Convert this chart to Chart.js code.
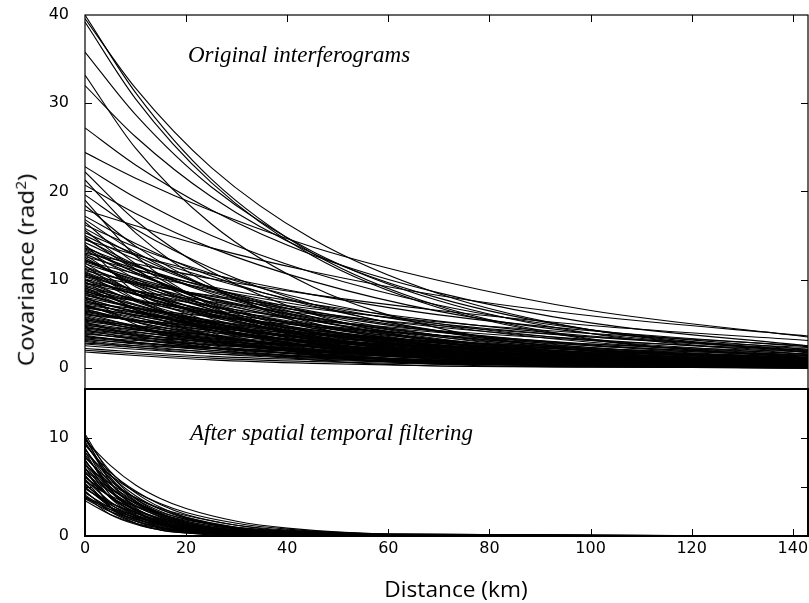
<!DOCTYPE html>
<html>
<head>
<meta charset="utf-8">
<script src="https://cdn.jsdelivr.net/npm/chart.js@4"></script>
<style>
  body { margin: 0; background: #fff; }
  #wrap { position: relative; width: 809px; height: 603px; overflow: hidden; }
  .panel { position: absolute; left: 0; width: 809px; }
  .note { position: absolute; font-family: "Liberation Serif", serif; font-style: italic; font-size: 23px; color: #000; white-space: nowrap; line-height: 1; }
  .axt { position: absolute; font-family: "Open Sans", sans-serif; font-size: 22px; color: #000; white-space: nowrap; line-height: 1; }
</style>
</head>
<body>
<div id="wrap">
  <div class="panel" style="top:0;height:400px"><canvas id="topChart" width="809" height="400"></canvas></div>
  <div class="panel" style="top:380px;height:223px"><canvas id="bottomChart" width="809" height="223"></canvas></div>
  <div class="note" style="left:188px;top:43px">Original interferograms</div>
  <div class="note" style="left:190px;top:421px">After spatial temporal filtering</div>
  <div class="axt" style="left:25px;top:270px;transform:translate(-50%,-50%) rotate(-90deg) scaleX(1.1)">Covariance (rad<sup style="font-size:14px">2</sup>)</div>
  <div class="axt" style="left:456px;top:588px;transform:translate(-50%,-50%) scaleX(1.03)">Distance (km)</div>
</div>
<script>
var distanceTop = [0, 10, 25, 45, 70, 100, 143];
var distanceBottom = [0, 5, 10, 15, 20, 30, 40, 60, 143];

// covariance (rad^2), original interferograms
var originalCurves = [
  [40.0, 31.2, 21.4, 13.0, 7.0, 3.3, 1.1],
  [39.6, 31.7, 22.7, 14.6, 8.4, 4.3, 1.7],
  [39.2, 30.5, 21.0, 12.7, 6.8, 3.2, 1.1],
  [35.8, 28.7, 20.5, 13.2, 7.6, 3.9, 1.5],
  [33.2, 24.9, 16.3, 9.2, 4.5, 1.9, 0.6],
  [32.0, 26.2, 19.4, 13.0, 7.9, 4.3, 1.8],
  [27.2, 23.0, 17.9, 12.8, 8.5, 5.1, 2.5],
  [24.4, 21.5, 17.8, 13.7, 9.9, 6.5, 3.5],
  [22.8, 19.3, 15.0, 10.8, 7.1, 4.3, 2.1],
  [22.2, 16.7, 10.9, 6.1, 3.0, 1.3, 0.4],
  [21.3, 15.3, 9.3, 4.7, 2.1, 0.8, 0.2],
  [20.7, 17.5, 13.6, 9.8, 6.4, 3.9, 1.9],
  [19.6, 15.7, 11.3, 7.2, 4.1, 2.1, 0.8],
  [19.0, 12.7, 7.0, 3.1, 1.2, 0.3, 0.1],
  [18.4, 13.8, 9.0, 5.1, 2.5, 1.0, 0.3],
  [17.9, 16.1, 13.6, 10.9, 8.2, 5.9, 3.6],
  [17.2, 14.1, 10.4, 7.0, 4.2, 2.3, 1.0],
  [16.8, 13.1, 9.0, 5.5, 2.9, 1.4, 0.5],
  [16.5, 11.8, 7.2, 3.7, 1.6, 0.6, 0.1],
  [16.2, 13.7, 10.7, 7.6, 5.0, 3.1, 1.5],
  [15.8, 12.7, 9.1, 5.8, 3.3, 1.7, 0.7],
  [15.6, 11.2, 6.8, 3.5, 1.5, 0.6, 0.1],
  [15.3, 12.9, 10.1, 7.2, 4.8, 2.9, 1.4],
  [15.0, 12.3, 9.1, 6.1, 3.7, 2.0, 0.9],
  [14.8, 11.1, 7.3, 4.1, 2.0, 0.8, 0.3],
  [14.6, 11.7, 8.4, 5.4, 3.1, 1.6, 0.6],
  [14.5, 12.8, 10.6, 8.3, 6.0, 4.2, 2.4],
  [14.2, 11.6, 8.6, 5.8, 3.5, 1.9, 0.8],
  [14.0, 8.5, 4.0, 1.5, 0.4, 0.1, 0.0],
  [13.8, 10.8, 7.4, 4.5, 2.4, 1.1, 0.4],
  [13.6, 11.5, 9.0, 6.4, 4.2, 2.6, 1.3],
  [13.5, 10.8, 7.7, 5.0, 2.8, 1.5, 0.6],
  [13.4, 10.1, 6.6, 3.7, 1.8, 0.8, 0.2],
  [13.2, 11.2, 8.7, 6.2, 4.1, 2.5, 1.2],
  [13.0, 11.8, 10.1, 8.3, 6.5, 4.8, 3.1],
  [12.9, 10.6, 7.8, 5.3, 3.2, 1.7, 0.7],
  [12.8, 9.2, 5.6, 2.9, 1.2, 0.5, 0.1],
  [12.6, 11.1, 9.2, 7.2, 5.3, 3.6, 2.1],
  [12.5, 9.4, 6.1, 3.5, 1.7, 0.7, 0.2],
  [12.3, 9.6, 6.6, 4.0, 2.1, 1.0, 0.3],
  [12.2, 9.8, 7.0, 4.5, 2.6, 1.3, 0.5],
  [12.1, 10.7, 8.9, 6.9, 5.0, 3.5, 2.0],
  [12.0, 10.2, 7.9, 5.7, 3.7, 2.3, 1.1],
  [11.9, 8.5, 5.2, 2.7, 1.2, 0.4, 0.1],
  [11.8, 10.0, 7.8, 5.6, 3.7, 2.2, 1.1],
  [11.6, 7.8, 4.3, 1.9, 0.7, 0.2, 0.0],
  [11.5, 9.4, 7.0, 4.7, 2.8, 1.6, 0.7],
  [11.3, 9.6, 7.4, 5.3, 3.5, 2.1, 1.0],
  [11.2, 8.7, 6.0, 3.6, 1.9, 0.9, 0.3],
  [11.0, 9.7, 8.1, 6.3, 4.6, 3.2, 1.8],
  [10.9, 8.7, 6.3, 4.0, 2.3, 1.2, 0.5],
  [10.8, 8.4, 5.8, 3.5, 1.9, 0.9, 0.3],
  [10.7, 7.7, 4.7, 2.4, 1.0, 0.4, 0.1],
  [10.6, 8.7, 6.4, 4.3, 2.6, 1.4, 0.6],
  [10.5, 9.5, 8.2, 6.7, 5.2, 3.9, 2.5],
  [10.4, 8.8, 6.9, 4.9, 3.2, 2.0, 1.0],
  [10.3, 8.3, 5.9, 3.8, 2.2, 1.1, 0.4],
  [10.1, 8.3, 6.1, 4.1, 2.5, 1.4, 0.6],
  [10.0, 7.5, 4.9, 2.8, 1.4, 0.6, 0.2],
  [9.9, 8.4, 6.5, 4.7, 3.1, 1.9, 0.9],
  [9.8, 6.6, 3.6, 1.6, 0.6, 0.2, 0.0],
  [9.7, 7.6, 5.2, 3.2, 1.7, 0.8, 0.3],
  [9.6, 8.7, 7.5, 6.1, 4.8, 3.5, 2.3],
  [9.5, 8.4, 7.0, 5.4, 4.0, 2.7, 1.6],
  [9.4, 7.7, 5.7, 3.8, 2.3, 1.3, 0.5],
  [9.3, 7.2, 5.0, 3.0, 1.6, 0.8, 0.3],
  [9.2, 7.8, 6.1, 4.3, 2.9, 1.7, 0.8],
  [9.1, 6.8, 4.5, 2.5, 1.2, 0.5, 0.2],
  [9.0, 7.6, 5.9, 4.2, 2.8, 1.7, 0.8],
  [8.9, 7.1, 5.1, 3.3, 1.9, 1.0, 0.4],
  [8.8, 6.6, 4.3, 2.4, 1.2, 0.5, 0.1],
  [8.7, 7.1, 5.3, 3.5, 2.1, 1.2, 0.5],
  [8.6, 7.6, 6.3, 4.9, 3.6, 2.5, 1.4],
  [8.5, 6.6, 4.5, 2.8, 1.5, 0.7, 0.2],
  [8.4, 7.6, 6.5, 5.4, 4.2, 3.1, 2.0],
  [8.3, 6.8, 5.0, 3.4, 2.1, 1.1, 0.5],
  [8.2, 6.9, 5.4, 3.9, 2.6, 1.5, 0.8],
  [8.1, 4.9, 2.3, 0.9, 0.2, 0.1, 0.0],
  [8.0, 6.8, 5.3, 3.8, 2.5, 1.5, 0.7],
  [7.9, 6.3, 4.5, 2.9, 1.7, 0.9, 0.3],
  [7.8, 6.4, 4.7, 3.2, 1.9, 1.1, 0.4],
  [7.7, 5.8, 3.8, 2.1, 1.0, 0.4, 0.1],
  [7.6, 6.4, 5.0, 3.6, 2.4, 1.4, 0.7],
  [7.5, 6.0, 4.3, 2.8, 1.6, 0.8, 0.3],
  [7.4, 6.7, 5.8, 4.7, 3.7, 2.7, 1.8],
  [7.3, 6.2, 4.8, 3.4, 2.3, 1.4, 0.7],
  [7.2, 5.2, 3.1, 1.6, 0.7, 0.3, 0.1],
  [7.1, 6.3, 5.2, 4.0, 3.0, 2.0, 1.2],
  [7.0, 5.5, 3.7, 2.3, 1.2, 0.6, 0.2],
  [7.0, 5.9, 4.6, 3.3, 2.2, 1.3, 0.6],
  [6.9, 5.7, 4.2, 2.8, 1.7, 0.9, 0.4],
  [6.8, 6.0, 5.0, 3.9, 2.8, 2.0, 1.1],
  [6.7, 5.2, 3.6, 2.2, 1.2, 0.5, 0.2],
  [6.6, 5.4, 4.0, 2.7, 1.6, 0.9, 0.4],
  [6.5, 5.2, 3.7, 2.4, 1.4, 0.7, 0.3],
  [6.4, 5.4, 4.2, 3.0, 2.0, 1.2, 0.6],
  [6.3, 5.3, 4.2, 3.0, 2.0, 1.2, 0.6],
  [6.2, 4.7, 3.0, 1.7, 0.8, 0.4, 0.1],
  [6.1, 5.4, 4.5, 3.5, 2.5, 1.8, 1.0],
  [6.0, 5.4, 4.7, 3.8, 3.0, 2.2, 1.4],
  [5.9, 4.8, 3.6, 2.4, 1.5, 0.8, 0.3],
  [5.8, 4.6, 3.3, 2.1, 1.2, 0.6, 0.2],
  [5.7, 4.4, 3.0, 1.9, 1.0, 0.5, 0.2],
  [5.6, 4.7, 3.7, 2.6, 1.7, 1.1, 0.5],
  [5.5, 4.4, 3.2, 2.0, 1.2, 0.6, 0.2],
  [5.4, 4.8, 4.0, 3.1, 2.3, 1.5, 0.9],
  [5.3, 4.5, 3.5, 2.5, 1.6, 1.0, 0.5],
  [5.2, 3.7, 2.3, 1.2, 0.5, 0.2, 0.0],
  [5.1, 4.3, 3.4, 2.4, 1.6, 1.0, 0.5],
  [5.0, 4.1, 3.0, 2.0, 1.2, 0.7, 0.3],
  [4.9, 3.9, 2.8, 1.8, 1.0, 0.5, 0.2],
  [4.8, 4.3, 3.7, 3.1, 2.4, 1.8, 1.1],
  [4.7, 3.8, 2.9, 1.9, 1.2, 0.6, 0.3],
  [4.6, 3.6, 2.5, 1.5, 0.8, 0.4, 0.1],
  [4.5, 4.0, 3.3, 2.6, 1.9, 1.3, 0.8],
  [4.4, 3.7, 2.9, 2.1, 1.4, 0.8, 0.4],
  [4.3, 3.3, 2.3, 1.4, 0.7, 0.4, 0.1],
  [4.2, 3.7, 3.1, 2.4, 1.8, 1.2, 0.7],
  [4.1, 3.5, 2.7, 1.9, 1.3, 0.8, 0.4],
  [4.0, 3.2, 2.3, 1.5, 0.8, 0.4, 0.2],
  [3.9, 3.3, 2.6, 1.8, 1.2, 0.7, 0.4],
  [3.8, 3.4, 3.0, 2.4, 1.9, 1.4, 0.9],
  [3.7, 2.9, 2.0, 1.2, 0.6, 0.3, 0.1],
  [3.6, 2.9, 2.2, 1.5, 0.9, 0.5, 0.2],
  [3.5, 3.1, 2.6, 2.0, 1.5, 1.0, 0.6],
  [3.4, 2.9, 2.2, 1.6, 1.1, 0.6, 0.3],
  [3.3, 2.7, 2.0, 1.3, 0.8, 0.4, 0.2],
  [3.2, 2.8, 2.3, 1.8, 1.3, 0.9, 0.5],
  [3.1, 2.5, 1.8, 1.1, 0.7, 0.3, 0.1],
  [3.0, 2.3, 1.6, 1.0, 0.5, 0.2, 0.1],
  [2.8, 2.5, 2.2, 1.8, 1.4, 1.0, 0.7],
  [2.7, 2.3, 1.8, 1.3, 0.8, 0.5, 0.2],
  [2.5, 2.1, 1.6, 1.2, 0.8, 0.5, 0.2],
  [2.2, 1.8, 1.3, 0.9, 0.5, 0.3, 0.1],
  [2.0, 1.6, 1.1, 0.7, 0.4, 0.2, 0.1],
  [1.8, 1.4, 0.9, 0.5, 0.2, 0.1, 0.0]
];

// covariance (rad^2), after spatial temporal filtering
var filteredCurves = [
  [10.4, 6.3, 3.8, 2.3, 1.4, 0.5, 0.2, 0.0, 0],
  [10.2, 5.5, 2.9, 1.6, 0.8, 0.2, 0.1, 0.0, 0],
  [10.0, 6.6, 4.4, 2.9, 1.9, 0.8, 0.4, 0.1, 0],
  [9.9, 6.0, 3.6, 2.2, 1.3, 0.5, 0.2, 0.0, 0],
  [9.8, 7.2, 5.2, 3.8, 2.8, 1.5, 0.8, 0.2, 0],
  [9.6, 5.8, 3.5, 2.1, 1.3, 0.5, 0.2, 0.0, 0],
  [9.4, 6.2, 4.1, 2.7, 1.8, 0.8, 0.3, 0.1, 0],
  [9.3, 6.5, 4.6, 3.2, 2.2, 1.1, 0.5, 0.1, 0],
  [9.0, 4.8, 2.6, 1.4, 0.7, 0.2, 0.1, 0.0, 0],
  [8.9, 5.4, 3.3, 2.0, 1.2, 0.4, 0.2, 0.0, 0],
  [8.8, 5.8, 3.8, 2.5, 1.7, 0.7, 0.3, 0.1, 0],
  [8.6, 4.6, 2.5, 1.3, 0.7, 0.2, 0.1, 0.0, 0],
  [8.5, 6.2, 4.5, 3.3, 2.4, 1.3, 0.7, 0.2, 0],
  [8.3, 5.0, 3.1, 1.9, 1.1, 0.4, 0.1, 0.0, 0],
  [8.1, 5.3, 3.5, 2.3, 1.5, 0.7, 0.3, 0.1, 0],
  [8.0, 5.6, 3.9, 2.7, 1.9, 0.9, 0.5, 0.1, 0],
  [7.8, 4.2, 2.2, 1.2, 0.6, 0.2, 0.1, 0.0, 0],
  [7.7, 4.7, 2.8, 1.7, 1.0, 0.4, 0.1, 0.0, 0],
  [7.6, 5.0, 3.3, 2.2, 1.4, 0.6, 0.3, 0.1, 0],
  [7.4, 4.5, 2.7, 1.7, 1.0, 0.4, 0.1, 0.0, 0],
  [7.3, 3.9, 2.1, 1.1, 0.6, 0.2, 0.0, 0.0, 0],
  [7.2, 5.3, 3.9, 2.8, 2.1, 1.1, 0.6, 0.2, 0],
  [7.0, 3.0, 1.3, 0.6, 0.3, 0.0, 0.0, 0.0, 0],
  [6.9, 4.8, 3.4, 2.4, 1.7, 0.8, 0.4, 0.1, 0],
  [6.8, 4.5, 3.0, 2.0, 1.3, 0.6, 0.2, 0.0, 0],
  [6.6, 4.0, 2.4, 1.5, 0.9, 0.3, 0.1, 0.0, 0],
  [6.5, 3.9, 2.4, 1.4, 0.9, 0.3, 0.1, 0.0, 0],
  [6.4, 4.5, 3.1, 2.2, 1.5, 0.7, 0.4, 0.1, 0],
  [6.2, 3.3, 1.8, 0.9, 0.5, 0.1, 0.0, 0.0, 0],
  [6.1, 4.0, 2.7, 1.8, 1.2, 0.5, 0.2, 0.0, 0],
  [6.0, 4.0, 2.6, 1.7, 1.1, 0.5, 0.2, 0.0, 0],
  [5.8, 3.5, 2.1, 1.3, 0.8, 0.3, 0.1, 0.0, 0],
  [5.7, 3.0, 1.6, 0.9, 0.5, 0.1, 0.0, 0.0, 0],
  [5.6, 4.1, 3.0, 2.2, 1.6, 0.9, 0.5, 0.1, 0],
  [5.4, 2.9, 1.5, 0.8, 0.4, 0.1, 0.0, 0.0, 0],
  [5.3, 3.2, 2.0, 1.2, 0.7, 0.3, 0.1, 0.0, 0],
  [5.2, 3.4, 2.3, 1.5, 1.0, 0.4, 0.2, 0.0, 0],
  [5.0, 3.0, 1.8, 1.1, 0.7, 0.3, 0.1, 0.0, 0],
  [4.9, 3.2, 2.1, 1.4, 0.9, 0.4, 0.2, 0.0, 0],
  [4.8, 3.4, 2.4, 1.6, 1.2, 0.6, 0.3, 0.1, 0],
  [4.6, 2.5, 1.3, 0.7, 0.4, 0.1, 0.0, 0.0, 0],
  [4.5, 2.7, 1.7, 1.0, 0.6, 0.2, 0.1, 0.0, 0],
  [4.4, 2.9, 1.9, 1.3, 0.8, 0.4, 0.2, 0.0, 0],
  [4.2, 2.5, 1.5, 0.9, 0.6, 0.2, 0.1, 0.0, 0],
  [4.1, 2.2, 1.2, 0.6, 0.3, 0.1, 0.0, 0.0, 0],
  [4.0, 2.9, 2.1, 1.6, 1.1, 0.6, 0.3, 0.1, 0],
  [3.9, 2.7, 1.9, 1.3, 0.9, 0.5, 0.2, 0.1, 0],
  [3.8, 2.5, 1.7, 1.1, 0.7, 0.3, 0.1, 0.0, 0],
  [3.6, 2.2, 1.3, 0.8, 0.5, 0.2, 0.1, 0.0, 0]
];

var topLabels = [0, 10, 20, 30, 40];
var topInnerY = [0, 10, 20, 30];
var bottomLabels = [0, 10];
var bottomInnerY = [5, 10];
var distanceTicks = [0, 20, 40, 60, 80, 100, 120, 140];

var tickFont = { family: 'DejaVu Sans', size: 16 };

function makeSets(xs, rows) {
  return rows.map(function (row) {
    return {
      data: row.map(function (v, i) { return { x: xs[i], y: v }; }),
      borderColor: '#000',
      borderWidth: 1.1,
      pointRadius: 0,
      fill: false,
      cubicInterpolationMode: 'monotone'
    };
  });
}

function setTicks(list) {
  return function (scale) {
    scale.ticks = list.map(function (v) { return { value: v }; });
  };
}

// axis boxes get no extra room for the end labels
function fixSize(prop, size) {
  return function (s) {
    s[prop] = size;
    s.paddingTop = 0; s.paddingBottom = 0; s.paddingLeft = 0; s.paddingRight = 0;
  };
}

// box around the plot plus the small inward tick marks
var framePlugin = {
  id: 'frame',
  afterDraw: function (chart, args, opts) {
    var ctx = chart.ctx, a = chart.chartArea;
    var sx = chart.scales.x, sy = chart.scales.y;
    ctx.save();
    ctx.strokeStyle = '#000';
    ctx.lineWidth = 1;
    ctx.beginPath();
    opts.yTicks.forEach(function (v) {
      var y = Math.round(sy.getPixelForValue(v)) + 0.5;
      ctx.moveTo(a.left, y); ctx.lineTo(a.left + 7, y);
      ctx.moveTo(a.right, y); ctx.lineTo(a.right - 7, y);
    });
    opts.xTicks.forEach(function (v) {
      var x = Math.round(sx.getPixelForValue(v)) + 0.5;
      if (opts.side === 'top') { ctx.moveTo(x, a.top); ctx.lineTo(x, a.top + 7); }
      else { ctx.moveTo(x, a.bottom); ctx.lineTo(x, a.bottom - 7); }
    });
    ctx.stroke();
    ctx.lineWidth = opts.width;
    ctx.strokeRect(a.left, a.top, a.right - a.left, a.bottom - a.top);
    ctx.restore();
  }
};

new Chart(document.getElementById('topChart'), {
  type: 'line',
  data: { datasets: makeSets(distanceTop, originalCurves) },
  plugins: [framePlugin],
  options: {
    responsive: false,
    animation: false,
    layout: { padding: { top: 15, right: 1, bottom: 11, left: 0 } },
    plugins: {
      legend: { display: false },
      tooltip: { enabled: false },
      frame: { yTicks: topInnerY, xTicks: distanceTicks.slice(1), side: 'top', width: 1.2 }
    },
    scales: {
      x: { type: 'linear', min: 0, max: 143, display: false },
      y: {
        min: -2.4, max: 40,
        afterBuildTicks: setTicks(topLabels),
        afterFit: fixSize('width', 85),
        grid: { display: false },
        border: { display: false },
        ticks: { font: tickFont, color: '#000', padding: 8 }
      }
    }
  }
});

new Chart(document.getElementById('bottomChart'), {
  type: 'line',
  data: { datasets: makeSets(distanceBottom, filteredCurves) },
  plugins: [framePlugin],
  options: {
    responsive: false,
    animation: false,
    layout: { padding: { top: 9, right: 1, bottom: 0, left: 0 } },
    plugins: {
      legend: { display: false },
      tooltip: { enabled: false },
      frame: { yTicks: bottomInnerY, xTicks: distanceTicks.slice(1), side: 'bottom', width: 2 }
    },
    scales: {
      x: {
        type: 'linear', min: 0, max: 143,
        afterBuildTicks: setTicks(distanceTicks),
        afterFit: fixSize('height', 67),
        grid: { display: false, drawTicks: false, tickLength: 0 },
        border: { display: false },
        ticks: { font: tickFont, color: '#000', padding: 3, maxRotation: 0 }
      },
      y: {
        min: 0, max: 15,
        afterBuildTicks: setTicks(bottomLabels),
        afterFit: fixSize('width', 85),
        grid: { display: false },
        border: { display: false },
        ticks: { font: tickFont, color: '#000', padding: 8 }
      }
    }
  }
});
</script>
</body>
</html>
